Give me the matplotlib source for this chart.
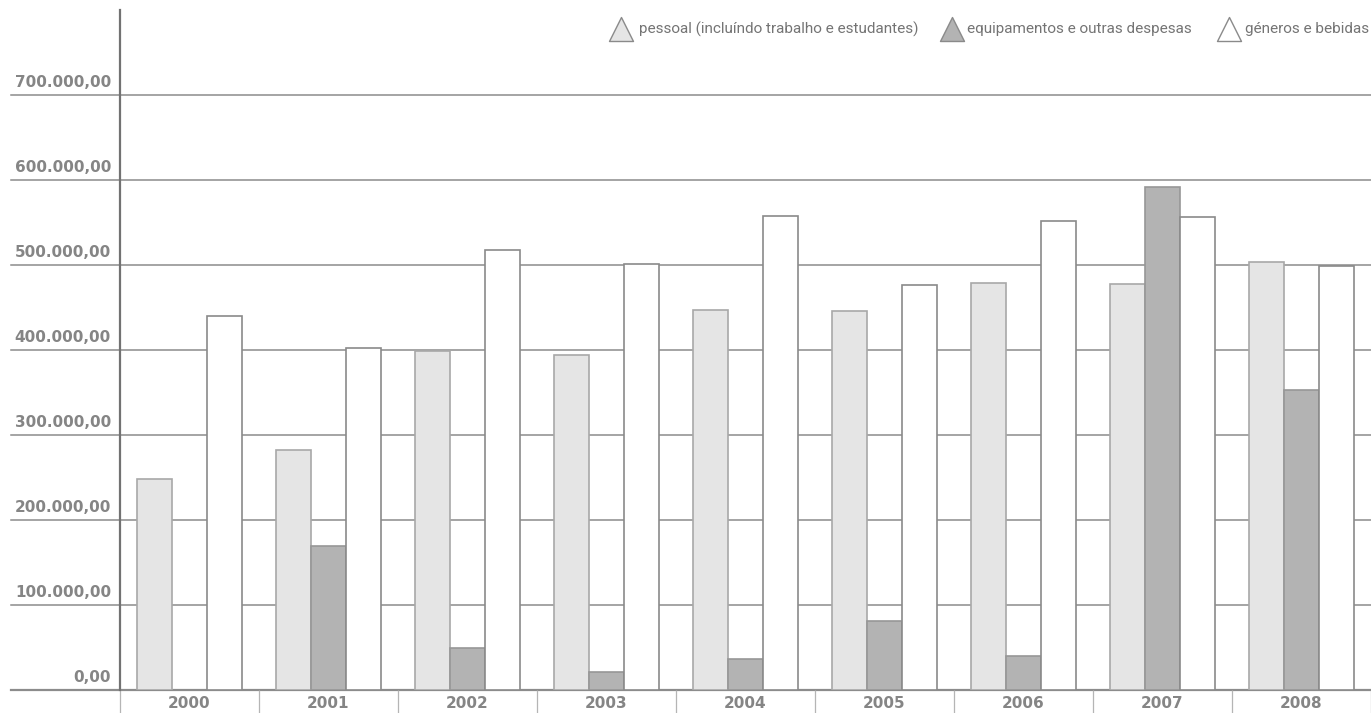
import matplotlib
matplotlib.use('Agg')
import matplotlib.pyplot as plt
import matplotlib.transforms as mtransforms
from matplotlib.lines import Line2D
from matplotlib.markers import MarkerStyle
import numpy as np

# values
years = ['2000', '2001', '2002', '2003', '2004', '2005', '2006', '2007', '2008']
pessoal = [248000, 282000, 399000, 394000, 447000, 446000, 479000, 478000, 504000]
equipamentos = [0, 169000, 49000, 21000, 37000, 81000, 40000, 592000, 353000]
generos = [440000, 402000, 518000, 501000, 558000, 476000, 552000, 556000, 499000]
series_names = ['pessoal (incluíndo trabalho e estudantes)',
                'equipamentos e outras despesas',
                'géneros e bebidas']
yticks = [0, 100000, 200000, 300000, 400000, 500000, 600000, 700000]
ytick_labels = ['0,00', '100.000,00', '200.000,00', '300.000,00',
                '400.000,00', '500.000,00', '600.000,00', '700.000,00']

W, H, DPI = 1371, 713, 100
fig = plt.figure(figsize=(W / DPI, H / DPI), dpi=DPI)
ax = fig.add_axes([120 / W, 23 / H, 1 - 120 / W, 680 / H])

fills = ['#e5e5e5', '#b3b3b3', '#ffffff']
edges = ['#a8a8a8', '#979797', '#8a8a8a']
x = np.arange(len(years))
bw = 0.25
for i, vals in enumerate([pessoal, equipamentos, generos]):
    v = np.array(vals, dtype=float)
    keep = v > 0
    ax.bar(x[keep] + (i - 1) * bw, v[keep], width=bw, color=fills[i],
           edgecolor=edges[i], linewidth=1.2, zorder=3)

ax.set_xlim(-0.5, len(years) - 0.5)
ax.set_ylim(0, 800000)

# horizontal gridlines, running out to the left of the axis
trans = mtransforms.blended_transform_factory(ax.transAxes, ax.transData)
x0 = (11 - 120) / (W - 120)
for yv in yticks:
    ax.plot([x0, 1], [yv, yv], transform=trans, color='#8c8c8c',
            lw=1.6 if yv == 0 else 1.1, clip_on=False, zorder=1)

# y labels sit above their gridline
for yv, lab in zip(yticks, ytick_labels):
    ax.annotate(lab, xy=(0, yv), xycoords=trans, xytext=(-6.5, 5.5),
                textcoords='offset points', ha='right', va='baseline',
                fontsize=11, fontweight='bold', color='#858585',
                annotation_clip=False)
ax.set_yticks([])

for s in ['top', 'right', 'bottom']:
    ax.spines[s].set_visible(False)
ax.spines['left'].set_color('#727272')
ax.spines['left'].set_linewidth(1.6)
ax.spines['left'].set_zorder(5)

# category separators below the axis, year labels centred
ax.set_xticks(np.arange(len(years) + 1) - 0.5)
ax.set_xticklabels([])
ax.tick_params(axis='x', which='major', length=16.5, width=0.9,
               color='#b5b5b5', direction='out')
ax.set_xticks(x, minor=True)
ax.set_xticklabels(years, minor=True, fontsize=11, fontweight='bold',
                   color='#858585')
ax.tick_params(axis='x', which='minor', length=0, pad=4)

# legend along the top; the original uses a condensed face, so size the
# text to take the same width as there
leg_marker_x = [621, 952, 1229]
leg_text_x = [639, 967, 1245]
leg_y = 1 - 29 / H
leg_font = 'Roboto'
renderer = fig.canvas.get_renderer()
probe = fig.text(0, 0, series_names[0], fontsize=12, family=leg_font)
leg_size = 12 * 279 / probe.get_window_extent(renderer).width
probe.remove()

for i, name in enumerate(series_names):
    fig.add_artist(Line2D([leg_marker_x[i] / W], [leg_y],
                          marker=MarkerStyle('^', joinstyle='round'),
                          markersize=17, markerfacecolor=fills[i],
                          markeredgecolor='#8a8a8a', markeredgewidth=1.0,
                          linestyle='none'))
    fig.text(leg_text_x[i] / W, leg_y, name, ha='left', va='center',
             fontsize=leg_size, color='#747474', family=leg_font)

fig.savefig('out.png', dpi=DPI)
